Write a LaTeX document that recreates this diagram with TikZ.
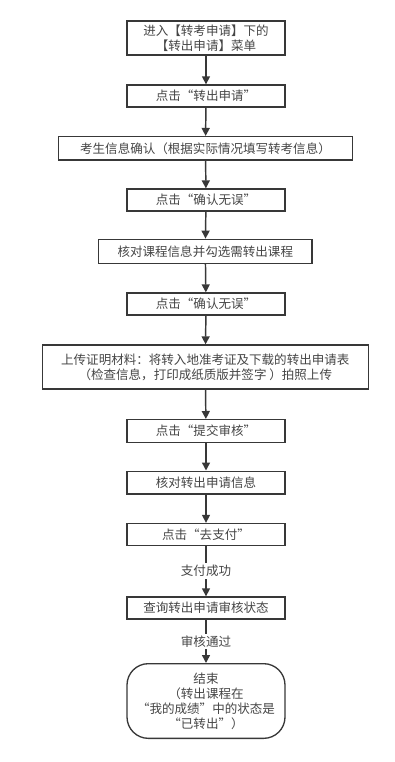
\documentclass[tikz,border=0pt]{standalone}
\usepackage{fontspec}
\setmainfont{Noto Sans CJK SC}
\usetikzlibrary{positioning, arrows.meta, shapes.geometric, calc}
\usepackage{xcolor}
\definecolor{Line}{HTML}{383838}
\definecolor{Ink}{HTML}{454545}

\tikzset{
    stepbox/.style={draw=Line, line width=1pt, align=center, inner sep=1pt,
                    minimum width=118.5pt, minimum height=16.5pt,
                    font=\fontsize{9.4}{11.3}\selectfont\color{Ink}},
    flow/.style={draw=Line, line width=1.1pt,
                 -{Triangle[length=6pt, width=6pt]}},
    edgetag/.style={fill=white, inner sep=1.5pt,
                    font=\fontsize{9.4}{11.3}\selectfont\color{Ink}}
}

\begin{document}
\begin{tikzpicture}[x=0.75pt, y=-0.75pt]
            \useasboundingbox (0,0) rectangle (395,762);
            \node[stepbox, minimum height=25.5pt] (enter) at (206, 38)
                {进入【转考申请】下的\\【转出申请】菜单};
            \node[stepbox] (clickout) at (206, 96) {点击“转出申请”};
            \node[stepbox, minimum width=220.5pt, minimum height=17.5pt]
                (confirminfo) at (205.5, 148.3)
                {考生信息确认（根据实际情况填写转考信息）};
            \node[stepbox] (confirmone) at (206, 200) {点击“确认无误”};
            \node[stepbox, minimum width=160pt, minimum height=18pt]
                (checkcourse) at (205.3, 251.3) {核对课程信息并勾选需转出课程};
            \node[stepbox] (confirmtwo) at (206, 304) {点击“确认无误”};
            \node[stepbox, minimum width=244.5pt, minimum height=33pt]
                (upload) at (205.3, 367)
                {上传证明材料：将转入地准考证及下载的转出申请表\\（检查信息，打印成纸质版并签字 ）拍照上传};
            \node[stepbox, minimum height=17pt] (submit) at (206, 431)
                {点击“提交审核”};
            \node[stepbox, minimum height=17pt] (review) at (206, 482.5)
                {核对转出申请信息};
            \node[stepbox] (pay) at (206, 534.5) {点击“去支付”};
            \node[stepbox] (status) at (206, 608) {查询转出申请审核状态};
            \node[stepbox, minimum height=56pt, rounded corners=16pt]
                (finish) at (206, 701)
                {结束\\（转出课程在\\“我的成绩”中的状态是\\“已转出”）};

            \draw[flow] (enter) -- (clickout);
            \draw[flow] (clickout) -- (confirminfo);
            \draw[flow] (confirminfo) -- (confirmone);
            \draw[flow] (confirmone) -- (checkcourse);
            \draw[flow] (checkcourse) -- (confirmtwo);
            \draw[flow] (confirmtwo) -- (upload);
            \draw[flow] (upload) -- (submit);
            \draw[flow] (submit) -- (review);
            \draw[flow] (review) -- (pay);
            \draw[flow] (pay) -- node[edgetag] {支付成功} (status);
            \draw[flow] (status) -- node[edgetag] {审核通过} (finish);
        \end{tikzpicture}
\end{document}
